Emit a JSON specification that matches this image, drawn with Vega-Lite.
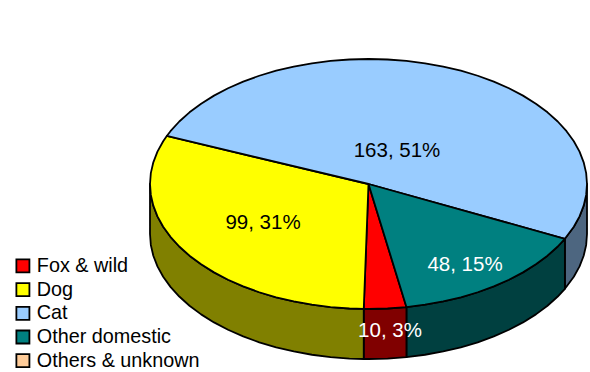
{
  "$schema": "https://vega.github.io/schema/vega-lite/v6.json",
  "width": 590,
  "height": 372,
  "padding": 0,
  "autosize": {"type": "none"},
  "background": "white",
  "view": {"stroke": null},
  "projection": {"type": "identity", "reflectY": true, "scale": 2.185, "translate": [368.5, 184]},
  "layer": [
    {
      "data": {"values": [
        {"type": "Feature", "properties": {"name": "Cat"}, "geometry": {"type": "Polygon", "coordinates": [[[100,0],[99.62,-4.99],[98.48,-9.93],[96.59,-14.8],[93.97,-19.56],[89.88,-25.07],[89.88,-47.97],[93.97,-42.46],[96.59,-37.7],[98.48,-32.83],[99.62,-27.89],[100,-22.9],[100,0]]]}},
        {"type": "Feature", "properties": {"name": "Other domestic"}, "geometry": {"type": "Polygon", "coordinates": [[[89.88,-25.07],[86.6,-28.6],[81.92,-32.81],[76.6,-36.77],[70.71,-40.45],[64.28,-43.82],[57.36,-46.86],[50,-49.54],[42.26,-51.84],[34.2,-53.75],[25.88,-55.25],[17.36,-56.33],[17.36,-79.23],[25.88,-78.15],[34.2,-76.65],[42.26,-74.74],[50,-72.44],[57.36,-69.76],[64.28,-66.72],[70.71,-63.35],[76.6,-59.67],[81.92,-55.71],[86.6,-51.5],[89.88,-47.97],[89.88,-25.07]]]}},
        {"type": "Feature", "properties": {"name": "Fox & wild"}, "geometry": {"type": "Polygon", "coordinates": [[[17.36,-56.33],[8.72,-56.98],[0,-57.2],[-2.18,-57.19],[-2.18,-80.09],[0,-80.1],[8.72,-79.88],[17.36,-79.23],[17.36,-56.33]]]}},
        {"type": "Feature", "properties": {"name": "Dog"}, "geometry": {"type": "Polygon", "coordinates": [[[-2.18,-57.19],[-8.72,-56.98],[-17.36,-56.33],[-25.88,-55.25],[-34.2,-53.75],[-42.26,-51.84],[-50,-49.54],[-57.36,-46.86],[-64.28,-43.82],[-70.71,-40.45],[-76.6,-36.77],[-81.92,-32.81],[-86.6,-28.6],[-90.63,-24.17],[-93.97,-19.56],[-96.59,-14.8],[-98.48,-9.93],[-99.62,-4.99],[-100,0],[-100,-22.9],[-99.62,-27.89],[-98.48,-32.83],[-96.59,-37.7],[-93.97,-42.46],[-90.63,-47.07],[-86.6,-51.5],[-81.92,-55.71],[-76.6,-59.67],[-70.71,-63.35],[-64.28,-66.72],[-57.36,-69.76],[-50,-72.44],[-42.26,-74.74],[-34.2,-76.65],[-25.88,-78.15],[-17.36,-79.23],[-8.72,-79.88],[-2.18,-80.09],[-2.18,-57.19]]]}}
      ]},
      "mark": {"type": "geoshape", "stroke": "black", "strokeWidth": 1.8, "strokeJoin": "round"},
      "encoding": {
        "color": {
          "field": "properties.name",
          "type": "nominal",
          "legend": null,
          "scale": {"domain": ["Fox & wild", "Dog", "Cat", "Other domestic"], "range": ["#800000", "#808000", "#4d6680", "#004040"]}
        }
      }
    },
    {
      "data": {"values": [
        {"type": "Feature", "properties": {"name": "Fox & wild", "count": 10}, "geometry": {"type": "Polygon", "coordinates": [[[0,0],[17.36,-56.33],[8.72,-56.98],[0,-57.2],[-2.18,-57.19],[0,0]]]}},
        {"type": "Feature", "properties": {"name": "Dog", "count": 99}, "geometry": {"type": "Polygon", "coordinates": [[[0,0],[-2.18,-57.19],[-8.72,-56.98],[-17.36,-56.33],[-25.88,-55.25],[-34.2,-53.75],[-42.26,-51.84],[-50,-49.54],[-57.36,-46.86],[-64.28,-43.82],[-70.71,-40.45],[-76.6,-36.77],[-81.92,-32.81],[-86.6,-28.6],[-90.63,-24.17],[-93.97,-19.56],[-96.59,-14.8],[-98.48,-9.93],[-99.62,-4.99],[-100,0],[-99.62,4.99],[-98.48,9.93],[-96.59,14.8],[-93.97,19.56],[-92.32,21.98],[0,0]]]}},
        {"type": "Feature", "properties": {"name": "Cat", "count": 163}, "geometry": {"type": "Polygon", "coordinates": [[[0,0],[-92.32,21.98],[-90.63,24.17],[-86.6,28.6],[-81.92,32.81],[-76.6,36.77],[-70.71,40.45],[-64.28,43.82],[-57.36,46.86],[-50,49.54],[-42.26,51.84],[-34.2,53.75],[-25.88,55.25],[-17.36,56.33],[-8.72,56.98],[0,57.2],[8.72,56.98],[17.36,56.33],[25.88,55.25],[34.2,53.75],[42.26,51.84],[50,49.54],[57.36,46.86],[64.28,43.82],[70.71,40.45],[76.6,36.77],[81.92,32.81],[86.6,28.6],[90.63,24.17],[93.97,19.56],[96.59,14.8],[98.48,9.93],[99.62,4.99],[100,0],[99.62,-4.99],[98.48,-9.93],[96.59,-14.8],[93.97,-19.56],[89.88,-25.07],[0,0]]]}},
        {"type": "Feature", "properties": {"name": "Other domestic", "count": 48}, "geometry": {"type": "Polygon", "coordinates": [[[0,0],[89.88,-25.07],[86.6,-28.6],[81.92,-32.81],[76.6,-36.77],[70.71,-40.45],[64.28,-43.82],[57.36,-46.86],[50,-49.54],[42.26,-51.84],[34.2,-53.75],[25.88,-55.25],[17.36,-56.33],[0,0]]]}}
      ]},
      "mark": {"type": "geoshape", "stroke": "black", "strokeWidth": 1.8, "strokeJoin": "round"},
      "encoding": {
        "color": {
          "field": "properties.name",
          "type": "nominal",
          "scale": {
            "domain": ["Fox & wild", "Dog", "Cat", "Other domestic", "Others & unknown"],
            "range": ["#ff0000", "#ffff00", "#99ccff", "#008080", "#ffcc99"]
          },
          "legend": {
            "orient": "none",
            "legendX": 13,
            "legendY": 256,
            "title": null,
            "symbolType": "square",
            "symbolSize": 170,
            "symbolStrokeColor": "black",
            "symbolStrokeWidth": 1.8,
            "symbolOpacity": 1,
            "labelFont": "Liberation Sans",
            "labelFontSize": 19.8,
            "labelColor": "black",
            "labelOffset": 4,
            "labelLimit": 300,
            "rowPadding": 1.7,
            "padding": 0
          }
        }
      }
    },
    {
      "data": {"values": [
        {"name": "Fox & wild", "count": 10, "label": "10, 3%", "tone": "light", "lon": 9.84, "lat": -66.82},
        {"name": "Dog", "count": 99, "label": "99, 31%", "tone": "dark", "lon": -48.28, "lat": -17.39},
        {"name": "Cat", "count": 163, "label": "163, 51%", "tone": "dark", "lon": 13.04, "lat": 15.56},
        {"name": "Other domestic", "count": 48, "label": "48, 15%", "tone": "light", "lon": 44.16, "lat": -36.61}
      ]},
      "mark": {"type": "text", "font": "Liberation Sans", "fontSize": 20.5, "align": "center", "baseline": "middle", "dy": 1},
      "encoding": {
        "longitude": {"field": "lon", "type": "quantitative"},
        "latitude": {"field": "lat", "type": "quantitative"},
        "text": {"field": "label", "type": "nominal"},
        "color": {
          "field": "tone",
          "type": "nominal",
          "legend": null,
          "scale": {"domain": ["light", "dark"], "range": ["#ffffff", "#000000"]}
        }
      }
    }
  ],
  "resolve": {"scale": {"color": "independent"}}
}
